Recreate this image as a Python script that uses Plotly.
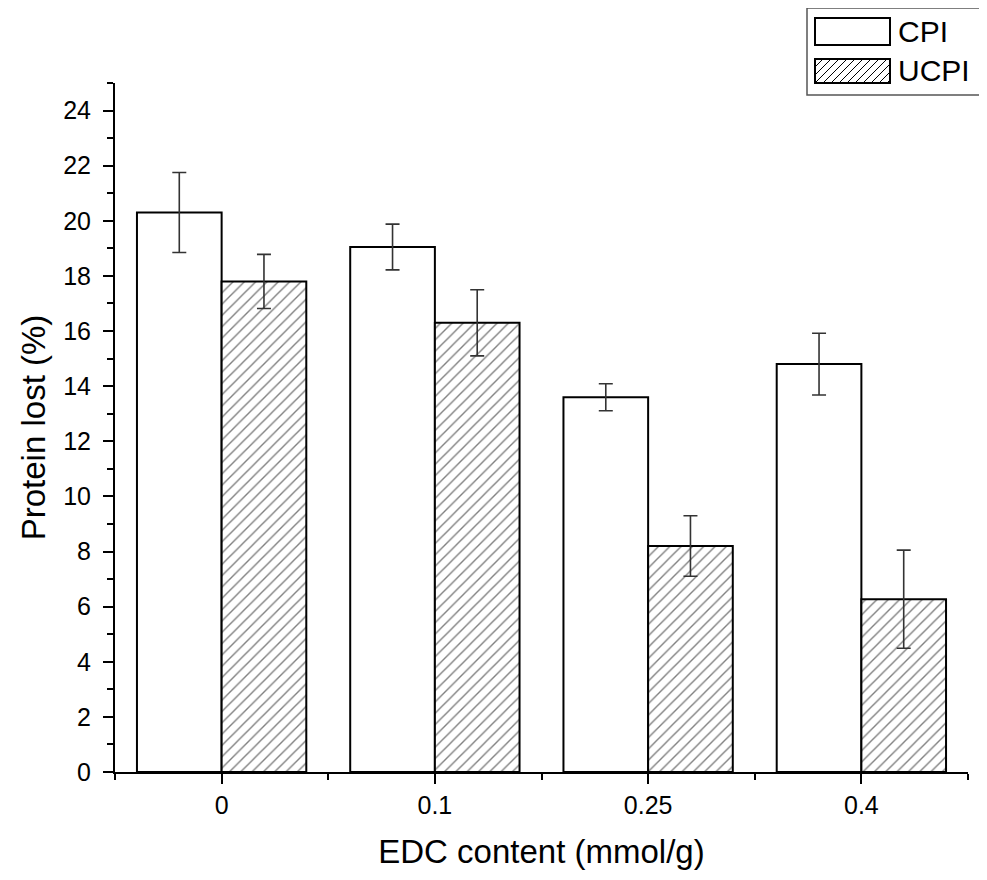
import plotly.graph_objects as go

categories = ["0", "0.1", "0.25", "0.4"]
cpi_values = [20.3, 19.05, 13.6, 14.8]
cpi_errors = [1.45, 0.83, 0.49, 1.12]
ucpi_values = [17.8, 16.3, 8.2, 6.27]
ucpi_errors = [0.98, 1.2, 1.1, 1.78]
y_ticks = [0, 2, 4, 6, 8, 10, 12, 14, 16, 18, 20, 22, 24]

xpos = list(range(len(categories)))
FONT = "Liberation Sans, Arial, sans-serif"

fig = go.Figure()
fig.add_trace(go.Bar(
    x=xpos, y=cpi_values, name="CPI",
    marker=dict(color="white", line=dict(color="black", width=2)),
    error_y=dict(type="data", array=cpi_errors, color="#333333", thickness=1.6, width=7),
))
fig.add_trace(go.Bar(
    x=xpos, y=ucpi_values, name="UCPI",
    marker=dict(color="white", line=dict(color="black", width=2),
                pattern=dict(shape="/", fgcolor="black", bgcolor="white", size=8, solidity=0.17)),
    error_y=dict(type="data", array=ucpi_errors, color="#333333", thickness=1.6, width=7),
))

# page body has an 8px margin; the figure div starts at (8, 8)
OFF = 8
W, H = 987 - OFF, 880 - OFF
L_ABS, T_ABS, R_ABS, B_ABS = 115, 83, 968, 772
L, T = L_ABS - OFF, T_ABS - OFF
R = 987 - R_ABS
B = 880 - B_ABS
pw, ph = R_ABS - L_ABS, B_ABS - T_ABS

def px(x):
    return (x - L_ABS) / pw

def py(y):
    return (B_ABS - y) / ph

shapes = []
shapes.append(dict(type="rect", xref="paper", yref="paper",
                   x0=px(807), x1=px(995), y0=py(95), y1=py(8),
                   line=dict(color="#555555", width=1.5), fillcolor="white", layer="above"))
shapes.append(dict(type="rect", xref="paper", yref="paper",
                   x0=px(815), x1=px(890), y0=py(45), y1=py(18),
                   line=dict(color="black", width=2), fillcolor="white", layer="above"))
sx0, sx1, sy0, sy1 = 815, 890, 59, 83
path = ""
step = 8
h = sy1 - sy0
k = sx0 - h
while k < sx1:
    xa, ya = k, sy1
    xb, yb = k + h, sy0
    if xa < sx0:
        ya = sy1 - (sx0 - xa)
        xa = sx0
    if xb > sx1:
        yb = sy0 + (xb - sx1)
        xb = sx1
    if xb > xa:
        path += f"M{px(xa)},{py(ya)} L{px(xb)},{py(yb)} "
    k += step
shapes.append(dict(type="path", xref="paper", yref="paper", path=path,
                   line=dict(color="black", width=1), layer="above"))
shapes.append(dict(type="rect", xref="paper", yref="paper",
                   x0=px(sx0), x1=px(sx1), y0=py(sy1), y1=py(sy0),
                   line=dict(color="black", width=2), layer="above"))

annotations = [
    dict(text="CPI", xref="paper", yref="paper", x=px(896), y=py(32), xanchor="left",
         yanchor="middle", showarrow=False, font=dict(family=FONT, size=30, color="black")),
    dict(text="UCPI", xref="paper", yref="paper", x=px(896), y=py(71), xanchor="left",
         yanchor="middle", showarrow=False, font=dict(family=FONT, size=30, color="black")),
]

fig.update_layout(
    width=W, height=H,
    margin=dict(l=L, r=R, t=T, b=B),
    paper_bgcolor="white", plot_bgcolor="white",
    barmode="group", bargap=0.206, bargroupgap=0,
    showlegend=False,
    font=dict(family=FONT, color="black"),
    shapes=shapes, annotations=annotations,
)
fig.update_xaxes(
    range=[-0.5, 3.5], tickmode="array", tickvals=xpos, ticktext=categories,
    showline=True, linecolor="black", linewidth=2, mirror=False,
    ticks="outside", ticklen=10, tickwidth=2, tickcolor="black",
    tickfont=dict(family=FONT, size=25), showgrid=False, zeroline=False,
    minor=dict(tickmode="array", tickvals=[-0.5, 0.5, 1.5, 2.5, 3.5], ticks="outside",
               ticklen=6, tickwidth=2, tickcolor="black", showgrid=False),
    title=dict(text="EDC content (mmol/g)", font=dict(family=FONT, size=33), standoff=22),
)
fig.update_yaxes(
    range=[0, 25], tickmode="array", tickvals=y_ticks,
    showline=True, linecolor="black", linewidth=2,
    ticks="outside", ticklen=10, tickwidth=2, tickcolor="black", ticklabelstandoff=7,
    tickfont=dict(family=FONT, size=25), showgrid=False, zeroline=False,
    minor=dict(dtick=1, tick0=0, ticks="outside", ticklen=6, tickwidth=2, tickcolor="black", showgrid=False),
    title=dict(text="Protein lost (%)", font=dict(family=FONT, size=33), standoff=8),
)

fig.write_html("out.html")
